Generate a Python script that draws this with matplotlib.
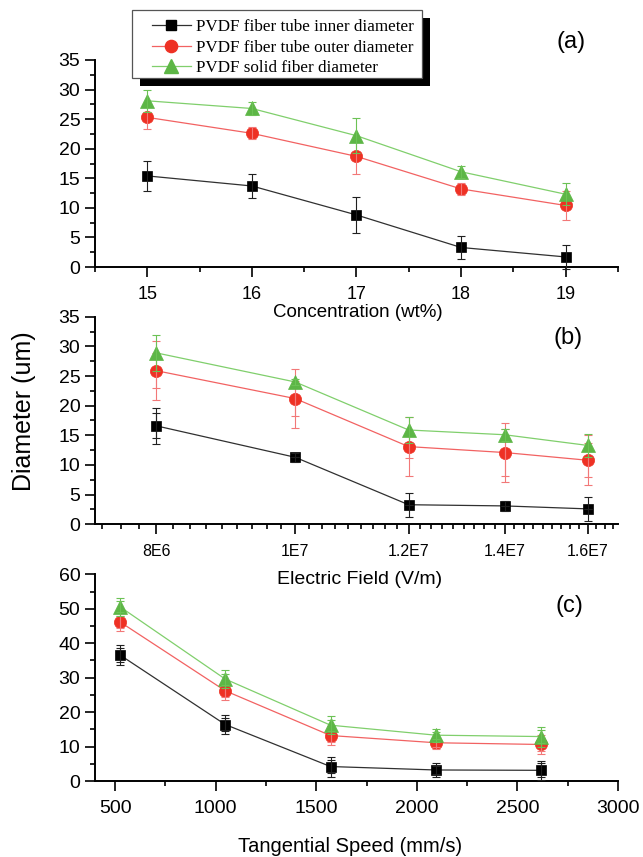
import matplotlib
matplotlib.use('Agg')
import matplotlib.pyplot as plt
import numpy as np
from matplotlib.ticker import MultipleLocator, FixedLocator, FixedFormatter, NullFormatter
from matplotlib.patches import Rectangle
from matplotlib.lines import Line2D

# ---------------- data ----------------
series_labels = ['PVDF fiber tube inner diameter',
                 'PVDF fiber tube outer diameter',
                 'PVDF solid fiber diameter']

# (a) concentration
conc = [15, 16, 17, 18, 19]
a_inner = [15.4, 13.7, 8.8, 3.3, 1.7]
a_inner_err = [2.5, 2.0, 3.0, 2.0, 2.0]
a_outer = [25.3, 22.6, 18.7, 13.2, 10.4]
a_outer_err = [2.0, 1.0, 3.0, 1.0, 2.5]
a_solid = [28.1, 26.8, 22.2, 16.1, 12.3]
a_solid_err = [1.9, 1.1, 3.0, 1.0, 1.9]

# (b) electric field
field = [8e6, 1e7, 1.2e7, 1.4e7, 1.6e7]
field_labels = ['8E6', '1E7', '1.2E7', '1.4E7', '1.6E7']
b_inner = [16.6, 11.3, 3.3, 3.1, 2.6]
b_inner_err = [3.0, 0.8, 2.0, 0.8, 2.0]
b_inner_err2 = [2.1, 0.0, 0.0, 0.0, 0.0]
b_outer = [25.9, 21.2, 13.1, 12.1, 10.8]
b_outer_err = [5.0, 5.0, 5.0, 5.0, 4.2]
b_outer_err2 = [3.0, 3.0, 2.0, 4.0, 2.9]
b_solid = [28.9, 24.0, 15.9, 15.1, 13.3]
b_solid_err = [3.0, 0.5, 2.2, 1.0, 1.9]

# (c) tangential speed
speed = [523.6, 1047.2, 1570.8, 2094.4, 2618.0]
c_inner = [36.6, 16.4, 4.2, 3.2, 3.1]
c_inner_err = [2.9, 2.8, 2.9, 1.9, 2.7]
c_inner_err2 = [2.0, 2.0, 2.0, 1.2, 2.0]
c_outer = [46.2, 26.2, 13.2, 11.1, 10.6]
c_outer_err = [2.8, 2.8, 2.8, 1.8, 2.7]
c_outer_err2 = [1.8, 1.8, 1.8, 1.2, 1.8]
c_solid = [50.6, 29.6, 16.2, 13.3, 12.9]
c_solid_err = [2.6, 2.6, 2.7, 1.9, 2.9]
c_solid_err2 = [1.6, 1.6, 1.6, 1.0, 1.9]

# ---------------- style ----------------
W, H = 643, 857
SANS = 'Liberation Sans'
plt.rcParams['font.family'] = [SANS, 'DejaVu Sans']

styles = [
    dict(marker='s', mc='#000000', lc='#303030', ec='#202020', ms=7.8),
    dict(marker='o', mc='#ee3124', lc='#f26262', ec='#f27878', ms=8.8),
    dict(marker='^', mc='#5db646', lc='#80cf6c', ec='#6cc255', ms=10.0),
]

fig = plt.figure(figsize=(W / 100, H / 100), dpi=100)


def ax_rect(top_px, bottom_px, left_px=95, right_px=618):
    return [left_px / W, 1 - bottom_px / H, (right_px - left_px) / W, (bottom_px - top_px) / H]


axA = fig.add_axes(ax_rect(60, 267))
axB = fig.add_axes(ax_rect(316.7, 524.3))
axC = fig.add_axes(ax_rect(574.3, 781))


def draw(ax, x, ys, errs, errs2=None):
    for i, (y, e) in enumerate(zip(ys, errs)):
        st = styles[i]
        ax.plot(x, y, color=st['lc'], lw=0.9, marker=st['marker'], ms=st['ms'],
                mfc=st['mc'], mec=st['mc'], mew=0.5, zorder=2 + 2 * i, clip_on=False)
        ax.errorbar(x, y, yerr=e, fmt='none', ecolor=st['ec'], elinewidth=0.8,
                    capsize=3, capthick=0.8, zorder=3 + 2 * i, clip_on=False)
        if errs2 is not None and errs2[i] is not None:
            ax.errorbar(x, y, yerr=errs2[i], fmt='none', ecolor=st['ec'], elinewidth=0.8,
                        capsize=3, capthick=0.8, zorder=3 + 2 * i, clip_on=False)


draw(axA, conc, [a_inner, a_outer, a_solid], [a_inner_err, a_outer_err, a_solid_err])
draw(axB, field, [b_inner, b_outer, b_solid], [b_inner_err, b_outer_err, b_solid_err],
     [b_inner_err2, b_outer_err2, None])
draw(axC, speed, [c_inner, c_outer, c_solid], [c_inner_err, c_outer_err, c_solid_err],
     [c_inner_err2, c_outer_err2, c_solid_err2])

for ax in (axA, axB, axC):
    ax.patch.set_visible(False)
    for s in ('top', 'right'):
        ax.spines[s].set_visible(False)
    for s in ('left', 'bottom'):
        ax.spines[s].set_linewidth(1.4)
    ax.tick_params(which='both', direction='out', width=1.2)
    ax.tick_params(which='major', length=7)
    ax.tick_params(which='minor', length=3.8)
    ax.tick_params(axis='y', which='major', labelsize=14, pad=3.5)
    ax.tick_params(axis='x', which='major', pad=7)

# (a)
axA.set_xlim(14.5, 19.5)
axA.set_ylim(0, 35)
axA.xaxis.set_major_locator(MultipleLocator(1))
axA.xaxis.set_minor_locator(MultipleLocator(0.5))
axA.yaxis.set_major_locator(MultipleLocator(5))
axA.yaxis.set_minor_locator(MultipleLocator(2.5))
axA.tick_params(axis='x', labelsize=13)
axA.set_xlabel('Concentration (wt%)', fontsize=13.5)
axA.xaxis.label.set_va('center')
axA.xaxis.set_label_coords(0.503, -0.222)

# (b)
axB.set_xscale('log')
axB.set_xlim(7.25e6, 1.68e7)
axB.set_ylim(0, 35)
axB.xaxis.set_major_locator(FixedLocator(field))
axB.xaxis.set_major_formatter(FixedFormatter(field_labels))
step = 2e6 / 9
cand = np.arange(8e6 - 3 * step, 1.68e7, step)
minors = [v for v in cand if not np.any(np.isclose(v, field, rtol=1e-6))]
axB.xaxis.set_minor_locator(FixedLocator(minors))
axB.xaxis.set_minor_formatter(NullFormatter())
axB.yaxis.set_major_locator(MultipleLocator(5))
axB.yaxis.set_minor_locator(MultipleLocator(2.5))
axB.tick_params(axis='x', labelsize=11.5)
axB.set_xlabel('Electric Field (V/m)', fontsize=14)
axB.xaxis.label.set_va('center')
axB.xaxis.set_label_coords(0.505, -0.268)

# (c)
axC.set_xlim(400, 3000)
axC.set_ylim(0, 60)
axC.xaxis.set_major_locator(FixedLocator([500, 1000, 1500, 2000, 2500, 3000]))
axC.xaxis.set_minor_locator(FixedLocator([750, 1250, 1750, 2250, 2750]))
axC.yaxis.set_major_locator(MultipleLocator(10))
axC.yaxis.set_minor_locator(MultipleLocator(5))
axC.tick_params(axis='x', labelsize=14)
axC.set_xlabel('Tangential Speed (mm/s)', fontsize=14.5)
axC.xaxis.label.set_va('center')
axC.xaxis.set_label_coords(0.487, -0.317)

# shared y label and panel tags
fig.text(24 / W, 1 - 411 / H, 'Diameter (um)', rotation=90, ha='center', va='center', fontsize=18)
fig.text(571 / W, 1 - 42 / H, '(a)', ha='center', va='center', fontsize=17)
fig.text(568 / W, 1 - 338 / H, '(b)', ha='center', va='center', fontsize=17)
fig.text(569 / W, 1 - 606 / H, '(c)', ha='center', va='center', fontsize=17)

# legend with shadowed frame
bx0, by0, bx1, by1 = 132, 10, 421.5, 77.7
shadow = Rectangle(((bx0 + 8) / W, 1 - (by1 + 8) / H), (bx1 - bx0) / W, (by1 - by0) / H,
                   transform=fig.transFigure, fc='black', ec='black', lw=0, zorder=4.8)
frame = Rectangle((bx0 / W, 1 - by1 / H), (bx1 - bx0) / W, (by1 - by0) / H,
                  transform=fig.transFigure, fc='white', ec='#555555', lw=0.9, zorder=4.9)
fig.add_artist(shadow)
fig.add_artist(frame)
handles = [Line2D([], [], color=st['lc'], lw=0.9, marker=st['marker'], ms=st['ms'],
                  mfc=st['mc'], mec=st['mc']) for st in styles]
fig.legend(handles, series_labels, loc='center left',
           bbox_to_anchor=(151.7 / W, 1 - 47.9 / H), frameon=False, borderpad=0,
           borderaxespad=0, handlelength=2.3, handletextpad=0.3, labelspacing=0.26,
           prop=dict(family='Liberation Serif', size=12.3))

fig.savefig('out.png', dpi=100)
